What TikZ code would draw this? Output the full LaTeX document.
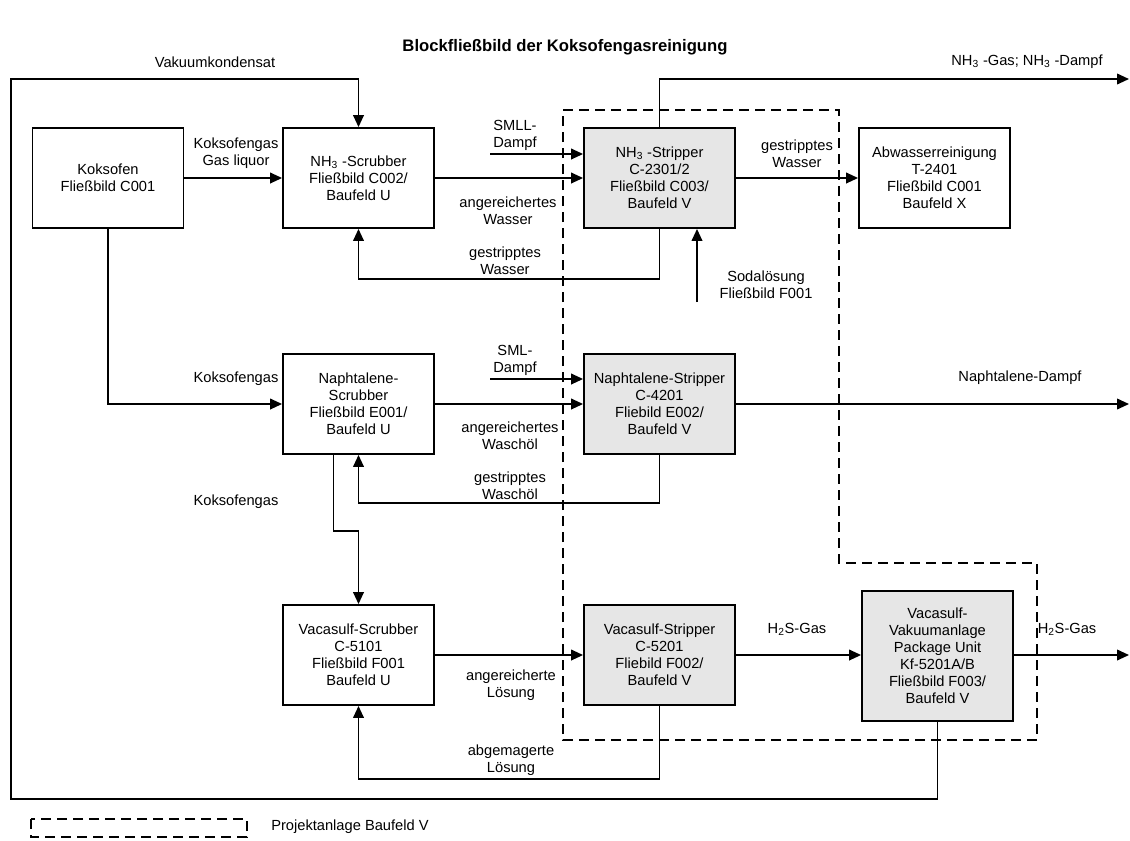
\documentclass[tikz,border=0pt]{standalone}
\usepackage{fontspec}
\setmainfont{Liberation Sans}
\usetikzlibrary{arrows.meta,calc}
\definecolor{boxgray}{RGB}{230,230,230}
\begin{document}
\begin{tikzpicture}[x=0.75pt,y=-0.75pt,
  every node/.style={font=\fontsize{11}{12.75}\selectfont, inner sep=0pt, align=center},
  blk/.style={draw, line width=1.4pt, minimum width=113.25pt, minimum height=75pt},
  grayblk/.style={blk, fill=boxgray},
  conn/.style={line width=1.3pt},
  arr/.style={conn, -{Triangle[length=9pt,width=8pt]}},
  plantline/.style={line width=1.3pt, dash pattern=on 7.5pt off 4.5pt},
  lbl/.style={}
]
\useasboundingbox (0,0) rectangle (1130,840);

% title
\node[font=\bfseries\fontsize{12.5}{15}\selectfont] (title) at (565,47) {Blockfließbild der Koksofengasreinigung};

% blocks
\node[blk] (koks) at (108,178) {Koksofen\\Fließbild C001};
\node[blk] (nh3s) at (358.5,178) {NH\textsubscript{3} -Scrubber\\Fließbild C002/\\Baufeld U};
\node[grayblk] (nh3st) at (659.5,178) {NH\textsubscript{3} -Stripper\\C-2301/2\\Fließbild C003/\\Baufeld V};
\node[blk] (abw) at (934.5,178) {Abwasserreinigung\\T-2401\\Fließbild C001\\Baufeld X};
\node[blk] (naps) at (358.5,404) {Naphtalene-\\Scrubber\\Fließbild E001/\\Baufeld U};
\node[grayblk] (napst) at (659.5,404) {Naphtalene-Stripper\\C-4201\\Fliebild E002/\\Baufeld V};
\node[blk] (vacs) at (358.5,655) {Vacasulf-Scrubber\\C-5101\\Fließbild F001\\Baufeld U};
\node[grayblk] (vacst) at (659.5,655) {Vacasulf-Stripper\\C-5201\\Fliebild F002/\\Baufeld V};
\node[grayblk, minimum height=97.5pt] (vak) at (937.5,656) {Vacasulf-\\Vakuumanlage\\Package Unit\\Kf-5201A/B\\Fließbild F003/\\Baufeld V};

% free ends
\coordinate (smll) at (490,154);
\coordinate (sml) at (490,379);
\coordinate (soda) at (697,302);
\coordinate (nh3out) at (1129,79);
\coordinate (napout) at (1129,404);
\coordinate (h2sout) at (1129,655);

% project area (dashed)
\draw[plantline] (563,110) -- (839,110) -- (839,563) -- (1037,563) -- (1037,740) -- (563,740) -- cycle;

% outer loop: Vakuumkondensat
\draw[arr] (vak.south) -- (vak.south |- 0,799) -- (11,799) -- (11,79) -- (nh3s.north |- 0,79) -- (nh3s.north);

% row 1
\draw[arr] (koks.east) -- (nh3s.west);
\draw[arr] (nh3s.east) -- (nh3st.west);
\draw[arr] (smll) -- (nh3st.west |- smll);
\draw[arr] (nh3st.south) -- (nh3st.south |- 0,279) -- (nh3s.south |- 0,279) -- (nh3s.south);
\draw[arr] (soda) -- (soda |- nh3st.south);
\draw[arr] (nh3st.east) -- (abw.west);
\draw[arr] (nh3st.north) -- (nh3st.north |- nh3out) -- (nh3out);

% row 2
\draw[arr] (koks.south) |- (naps.west);
\draw[arr] (naps.east) -- (napst.west);
\draw[arr] (sml) -- (napst.west |- sml);
\draw[arr] (napst.south) -- (napst.south |- 0,503) -- (naps.south |- 0,503) -- (naps.south);
\draw[arr] (napst.east) -- (napout);
\draw[arr] ($(naps.south)+(-25,0)$) -- ($(naps.south)+(-25,76)$) -- ($(naps.south)+(0,76)$) -- (vacs.north);

% row 3
\draw[arr] (vacs.east) -- (vacst.west);
\draw[arr] (vacst.south) -- (vacst.south |- 0,779) -- (vacs.south |- 0,779) -- (vacs.south);
\draw[arr] (vacst.east) -- (vak.west |- vacst.east);
\draw[arr] (vak.east |- h2sout) -- (h2sout);

% labels
\node (lvak) at (215,62) {Vakuumkondensat};
\node (lkg1) at (236,153.5) {Koksofengas\\Gas liquor};
\node (lsmll) at (515,135) {SMLL-\\Dampf};
\node (lanw) at (508,210.5) {angereichertes\\Wasser};
\node (lgsw1) at (505,260.5) {gestripptes\\Wasser};
\node (lgsw2) at (797,153.5) {gestripptes\\Wasser};
\node (lsoda) at (766,285) {Sodalösung\\Fließbild F001};
\node (lnh3) at (1027,62) {NH\textsubscript{3} -Gas; NH\textsubscript{3} -Dampf};
\node (lkg2) at (236,379) {Koksofengas};
\node (lsml) at (515,360) {SML-\\Dampf};
\node (lanwo) at (510,436) {angereichertes\\Waschöl};
\node (lgswo) at (510,486) {gestripptes\\Waschöl};
\node (lnapd) at (1020,378) {Naphtalene-Dampf};
\node (lkg3) at (236,502) {Koksofengas};
\node (lanl) at (511,685.5) {angereicherte\\Lösung};
\node (labl) at (511,760.5) {abgemagerte\\Lösung};
\node (lh2s1) at (797,629) {H\textsubscript{2}S-Gas};
\node (lh2s2) at (1067,629) {H\textsubscript{2}S-Gas};

% legend
\draw[plantline] (31,819) rectangle (247,837);
\node[anchor=west] (legtxt) at (271,827) {Projektanlage Baufeld V};
\end{tikzpicture}
\end{document}
